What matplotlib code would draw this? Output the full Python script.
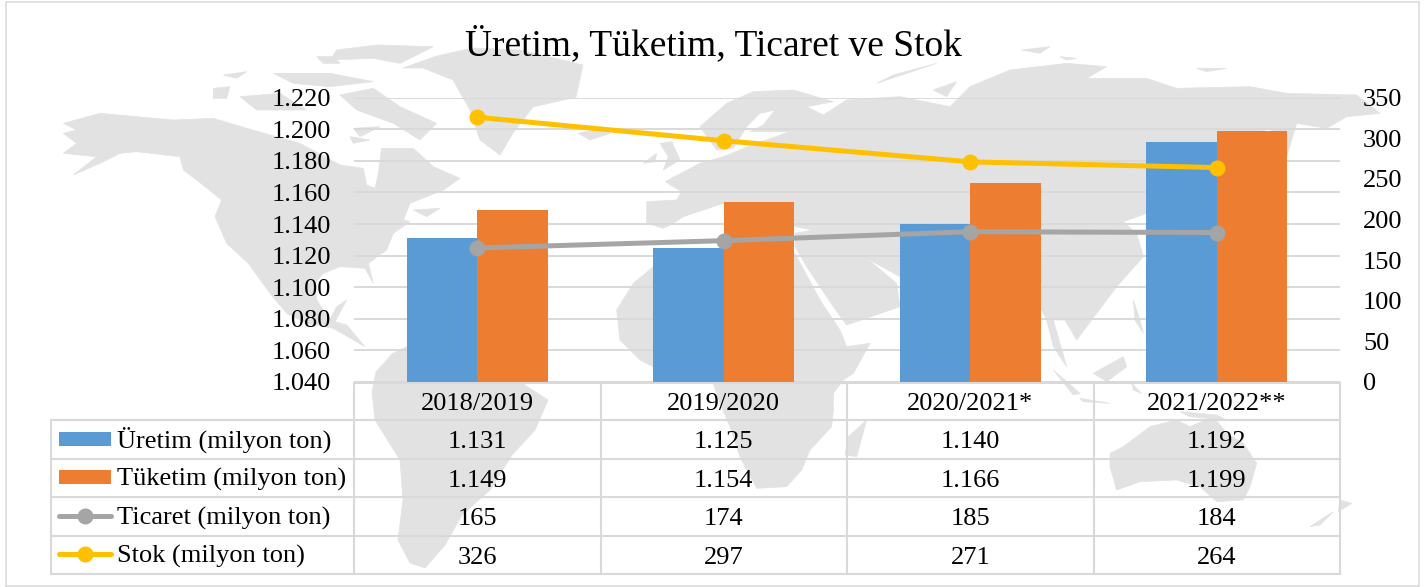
import matplotlib
matplotlib.use('Agg')
import matplotlib.pyplot as plt
from matplotlib.patches import Polygon, Rectangle

plt.rcParams['font.family'] = ['Liberation Serif', 'DejaVu Serif']

title = 'Üretim, Tüketim, Ticaret ve Stok'
years = ['2018/2019', '2019/2020', '2020/2021*', '2021/2022**']
uretim = [1131, 1125, 1140, 1192]
tuketim = [1149, 1154, 1166, 1199]
ticaret = [165, 174, 185, 184]
stok = [326, 297, 271, 264]
left_ticks = [1040, 1060, 1080, 1100, 1120, 1140, 1160, 1180, 1200, 1220]
right_ticks = [0, 50, 100, 150, 200, 250, 300, 350]
row_names = ['Üretim (milyon ton)', 'Tüketim (milyon ton)', 'Ticaret (milyon ton)', 'Stok (milyon ton)']

BLUE = '#5b9bd5'
ORANGE = '#ed7d31'
GRAY = '#a5a5a5'
YELLOW = '#ffc000'
LINE = '#d9d9d9'
MAP = '#e2e2e2'
W, H = 1426, 587


def crop(ox, oy, pts):
    return [(ox + x / 3, oy + y / 3) for x, y in pts]


# background world map, pixel coordinates
land = [
    # north america
    crop(40, 0, [(70, 370), (180, 340), (400, 360), (520, 355), (620, 385), (780, 430), (900, 495)])
    + crop(300, 90, [(190, 235), (200, 285), (225, 295), (235, 250), (245, 175), (340, 175), (400, 230), (480, 265),
                     (430, 300), (380, 320), (330, 340), (310, 390)])
    + crop(40, 0, [(1110, 665), (1060, 700), (1040, 750), (985, 790), (1000, 850), (975, 805), (900, 800), (850, 820),
                   (825, 850), (830, 900), (870, 960), (890, 920), (920, 900), (885, 965), (920, 975), (975, 1040),
                   (880, 985), (800, 970), (740, 940), (690, 880), (625, 790), (560, 730), (525, 650), (545, 600),
                   (470, 540), (430, 510), (420, 470), (290, 455), (240, 460), (180, 490), (100, 525), (170, 470),
                   (70, 460), (110, 430), (70, 400), (110, 390)]),
    # arctic islands
    crop(40, 0, [(890, 150), (1010, 135), (1180, 140), (1080, 190), (1000, 175), (870, 180)]),
    crop(40, 0, [(900, 285), (1000, 265), (1080, 320), (1190, 370), (1140, 420), (1060, 370), (950, 330)]),
    crop(40, 0, [(600, 290), (720, 280), (800, 330), (650, 330)]),
    crop(40, 0, [(520, 265), (570, 260), (560, 295), (520, 295)]),
    crop(40, 0, [(550, 225), (620, 215), (590, 235)]),
    crop(40, 0, [(830, 170), (880, 170), (900, 190), (850, 190)]),
    crop(40, 0, [(700, 220), (870, 220), (1000, 245), (870, 260), (760, 250)]),
    crop(40, 0, [(940, 385), (1020, 380), (960, 410)]),
    crop(40, 0, [(930, 410), (990, 420), (940, 430)]),
    crop(40, 0, [(1120, 630), (1200, 625), (1160, 650)]),
    # greenland
    [(403, 68), (437, 56), (473, 48), (520, 50), (583, 65), (576, 97), (533, 107), (513, 133), (500, 155), (480, 140),
     (470, 110), (453, 80), (423, 68)],
    # south america
    [(372, 392), (376, 372), (392, 354), (408, 346), (430, 350), (470, 368), (520, 382), (548, 400), (535, 430),
     (512, 455), (490, 490), (462, 515), (445, 545), (425, 568), (410, 563), (398, 540), (403, 500), (400, 460),
     (375, 420)],
    # eurasia
    crop(600, 60, [(140, 425), (230, 420), (245, 395), (195, 365), (300, 310), (370, 290), (470, 250), (570, 215),
                   (450, 215), (490, 195), (525, 150), (480, 160), (440, 200), (400, 265), (350, 270), (300, 200),
                   (380, 130), (460, 95), (580, 90), (700, 125), (620, 140), (670, 165), (740, 120), (900, 110)])
    + crop(950, 0, [(0, 320), (60, 260), (180, 210), (350, 190), (470, 200), (410, 235), (590, 235), (680, 265),
                    (900, 260), (1010, 280), (1220, 285), (1290, 340), (1190, 350), (1130, 385), (1040, 370),
                    (1010, 470), (960, 385), (800, 440), (700, 560), (590, 640), (520, 665), (560, 700), (580, 770),
                    (500, 860), (440, 940), (380, 1020), (345, 960), (310, 960), (350, 1100), (310, 1040), (290, 960),
                    (270, 920), (200, 940), (100, 1020), (0, 900)])
    + crop(500, 0, [(1200, 830), (1100, 775), (1190, 850), (1200, 920), (1040, 975), (1000, 920), (920, 800),
                    (885, 740), (885, 700), (940, 690), (885, 680), (800, 660)])
    + crop(600, 60, [(370, 430), (250, 470), (220, 490), (190, 505), (140, 490)]),
    crop(600, 60, [(180, 250), (215, 245), (240, 300), (190, 330), (205, 290)]),
    crop(600, 60, [(130, 310), (170, 280), (165, 305)]),
    crop(500, 0, [(235, 400), (300, 385), (330, 400), (270, 420)]),
    crop(500, 0, [(1130, 250), (1310, 190), (1180, 225)]),
    crop(500, 0, [(1300, 270), (1370, 245), (1340, 290)]),
    crop(950, 0, [(215, 150), (300, 140), (270, 160)]),
    crop(950, 0, [(330, 170), (380, 175), (350, 180)]),
    crop(950, 0, [(740, 205), (830, 205), (770, 215)]),
    # africa
    crop(500, 0, [(350, 930), (400, 850), (460, 800), (620, 780), (885, 760), (960, 900), (1020, 990), (1040, 1040),
                  (1110, 1030), (1060, 1120)])
    + crop(500, 370, [(1030, 30), (1000, 70), (1000, 120), (995, 170), (930, 240), (905, 300), (860, 350), (770, 355),
                      (720, 260), (690, 170), (660, 100), (640, 40), (500, 10)])
    + crop(500, 0, [(420, 1080), (360, 1020)]),
    crop(500, 370, [(1100, 150), (1070, 260), (1035, 255), (1045, 200)]),
    # islands of south east asia
    crop(950, 370, [(310, 0), (390, 70), (370, 75)]),
    crop(950, 370, [(390, 85), (480, 100), (400, 95)]),
    crop(950, 0, [(430, 1120), (520, 1070), (530, 1100), (470, 1145)]),
    crop(950, 370, [(545, 40), (575, 70), (550, 60)]),
    crop(950, 0, [(550, 900), (570, 960), (580, 1000), (555, 960)]),
    crop(950, 370, [(690, 125), (800, 135), (830, 150), (720, 140)]),
    # australia and new zealand
    crop(950, 370, [(480, 250), (520, 230), (600, 170), (680, 150), (720, 170), (790, 140), (830, 190), (880, 220),
                    (920, 280), (900, 350), (880, 390), (800, 395), (750, 350), (680, 330), (570, 335), (500, 360),
                    (480, 290)]),
    crop(950, 370, [(1080, 470), (1150, 425), (1110, 465)]),
    crop(950, 370, [(1170, 390), (1205, 400), (1165, 425)]),
]

fig = plt.figure(figsize=(W / 100, H / 100), dpi=100)

bg = fig.add_axes([0, 0, 1, 1], zorder=0)
bg.set_xlim(0, W)
bg.set_ylim(H, 0)
bg.axis('off')
for shape in land:
    bg.add_patch(Polygon(shape, closed=True, fc=MAP, ec=MAP, lw=0.5))
bg.add_patch(Rectangle((6, 1.5), 1413, 584.5, fc='none', ec=LINE, lw=1.1))

ax = fig.add_axes([354 / W, 1 - 382 / H, 986 / W, 284.3 / H], zorder=1)
ax.patch.set_visible(False)
x = list(range(len(years)))
bar_w = 1 / 3.5
ax.bar([i - bar_w / 2 for i in x], uretim, bar_w, color=BLUE, zorder=3)
ax.bar([i + bar_w / 2 for i in x], tuketim, bar_w, color=ORANGE, zorder=3)
ax.set_xlim(-0.5, 3.5)
ax.set_ylim(1040, 1220)
ax.set_xticks([])
ax.set_yticks(left_ticks)
ax.set_yticklabels([f'{t:,}'.replace(',', '.') for t in left_ticks])
ax.tick_params(axis='y', length=0, pad=16.5, labelsize=19)
ax.grid(axis='y', color=LINE, lw=1.4, zorder=1)
ax.set_axisbelow(True)
for s in ax.spines.values():
    s.set_visible(False)

ax2 = ax.twinx()
ax2.plot(x, ticaret, color=GRAY, lw=3.6, marker='o', ms=10.5, solid_capstyle='round', zorder=4)
ax2.plot(x, stok, color=YELLOW, lw=3.6, marker='o', ms=10.5, solid_capstyle='round', zorder=4)
ax2.set_ylim(0, 350)
ax2.set_yticks(right_ticks)
ax2.tick_params(axis='y', length=0, pad=16.5, labelsize=19)
for s in ax2.spines.values():
    s.set_visible(False)

# data table under the plot
tb = fig.add_axes([0, 0, 1, 1], zorder=2)
tb.set_xlim(0, W)
tb.set_ylim(H, 0)
tb.axis('off')
col_x = [354, 600.5, 847, 1093.5, 1340]
row_y = [382.5, 420, 458.5, 497, 535.7, 574]
for yy in row_y:
    tb.plot([col_x[0] if yy == row_y[0] else 51, 1340], [yy, yy], color=LINE, lw=1.5, solid_capstyle='projecting')
for xx in col_x:
    tb.plot([xx, xx], [382.5, 574], color=LINE, lw=1.5, solid_capstyle='projecting')
tb.plot([51, 51], [420, 574], color=LINE, lw=1.5, solid_capstyle='projecting')

for i, label in enumerate(years):
    tb.text((col_x[i] + col_x[i + 1]) / 2, 410, label, ha='center', va='baseline', fontsize=19)

rows = [uretim, tuketim, ticaret, stok]
for r, vals in enumerate(rows):
    cy = (row_y[r + 1] + row_y[r + 2]) / 2
    tb.text(117, cy + 8, row_names[r], ha='left', va='baseline', fontsize=19)
    for i, v in enumerate(vals):
        tb.text((col_x[i] + col_x[i + 1]) / 2, cy + 9, f'{v:,}'.replace(',', '.'), ha='center', va='baseline',
                fontsize=19)

tb.add_patch(Rectangle((59, 432), 52, 14, fc=BLUE, ec='none'))
tb.add_patch(Rectangle((59, 470), 52, 14, fc=ORANGE, ec='none'))
tb.plot([59, 111], [515.7, 515.7], color=GRAY, lw=3.6, solid_capstyle='round')
tb.plot([85], [515.7], color=GRAY, marker='o', ms=10.5)
tb.plot([59, 111], [554, 554], color=YELLOW, lw=3.6, solid_capstyle='round')
tb.plot([85], [554], color=YELLOW, marker='o', ms=10.5)

tb.text(713, 55, title, ha='center', va='baseline', fontsize=27)

fig.savefig('out.png', dpi=100)
